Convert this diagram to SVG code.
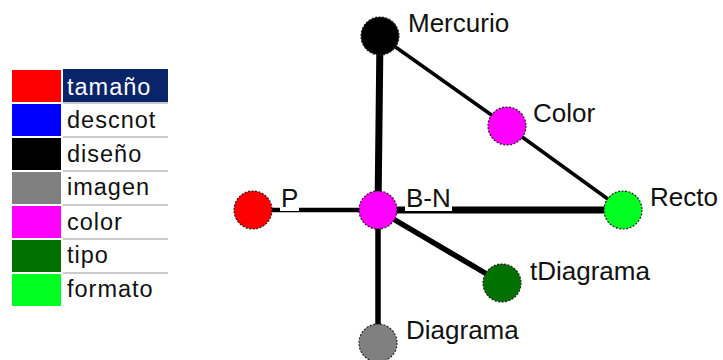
<svg xmlns="http://www.w3.org/2000/svg" width="723" height="360" viewBox="0 0 723 360">
<style>
text{font-family:"Liberation Sans",Arial,sans-serif;font-size:26px;fill:#111}
.lg{font-size:23.5px;letter-spacing:1px}
.sep{stroke:#b8b8b8;stroke-width:1.5}
.node{stroke:#222;stroke-width:1.2;stroke-dasharray:2 1.5}
.e{stroke:#000;stroke-linecap:butt}
</style>
<rect width="723" height="360" fill="#fff"/>
<g id="legend">
<rect x="12" y="70" width="49" height="32" fill="#ff0000"/>
<rect x="12" y="104" width="49" height="32" fill="#0000ff"/>
<rect x="12" y="138" width="49" height="32" fill="#000000"/>
<rect x="12" y="172" width="49" height="32" fill="#808080"/>
<rect x="12" y="206" width="49" height="32" fill="#ff00ff"/>
<rect x="12" y="240" width="49" height="32" fill="#007000"/>
<rect x="12" y="274" width="49" height="32" fill="#00ff20"/>
<rect x="63" y="69" width="105" height="33" fill="#0a246a"/>
<line class="sep" x1="63" y1="103" x2="168" y2="103"/>
<line class="sep" x1="63" y1="137" x2="168" y2="137"/>
<line class="sep" x1="63" y1="171" x2="168" y2="171"/>
<line class="sep" x1="63" y1="205" x2="168" y2="205"/>
<line class="sep" x1="63" y1="239" x2="168" y2="239"/>
<line class="sep" x1="63" y1="273" x2="168" y2="273"/>
<text class="lg" x="67" y="95" style="fill:#fff">tamaño</text>
<text class="lg" x="67" y="128">descnot</text>
<text class="lg" x="67" y="162">diseño</text>
<text class="lg" x="67" y="195">imagen</text>
<text class="lg" x="67" y="230">color</text>
<text class="lg" x="67" y="263">tipo</text>
<text class="lg" x="67" y="297">formato</text>
</g>
<g id="connectors">
<line class="e" x1="380" y1="36" x2="378" y2="210" stroke-width="7"/>
<line class="e" x1="380" y1="36" x2="507" y2="126" stroke-width="3.5"/>
<line class="e" x1="507" y1="126" x2="623" y2="210" stroke-width="3.5"/>
<line class="e" x1="253" y1="210" x2="378" y2="210" stroke-width="4.5"/>
<line class="e" x1="378" y1="210" x2="623" y2="210" stroke-width="7"/>
<line class="e" x1="378" y1="210" x2="502" y2="283" stroke-width="5.5"/>
<line class="e" x1="378" y1="210" x2="378" y2="343" stroke-width="5.5"/>
</g>
<g id="node-mercurio"><circle class="node" cx="380" cy="36" r="19" fill="#000"/><text x="408" y="32">Mercurio</text></g>
<g id="node-color"><circle class="node" cx="507" cy="126" r="19" fill="#ff00ff"/><text x="533" y="122">Color</text></g>
<g id="node-p"><circle class="node" cx="253" cy="210" r="19" fill="#ff0000"/><rect x="280" y="186" width="19" height="25" fill="#fff"/><text x="281" y="207">P</text></g>
<g id="node-bn"><circle class="node" cx="378" cy="210" r="19" fill="#ff00ff"/><rect x="405" y="186" width="47" height="25" fill="#fff"/><text x="406" y="207">B-N</text></g>
<g id="node-recto"><circle class="node" cx="623" cy="210" r="19" fill="#00ff20"/><text x="650" y="206">Recto</text></g>
<g id="node-tdiagrama"><circle class="node" cx="502" cy="283" r="19" fill="#007000"/><text x="530" y="280">tDiagrama</text></g>
<g id="node-diagrama"><circle class="node" cx="378" cy="343" r="19" fill="#808080"/><text x="406" y="339">Diagrama</text></g>
</svg>
